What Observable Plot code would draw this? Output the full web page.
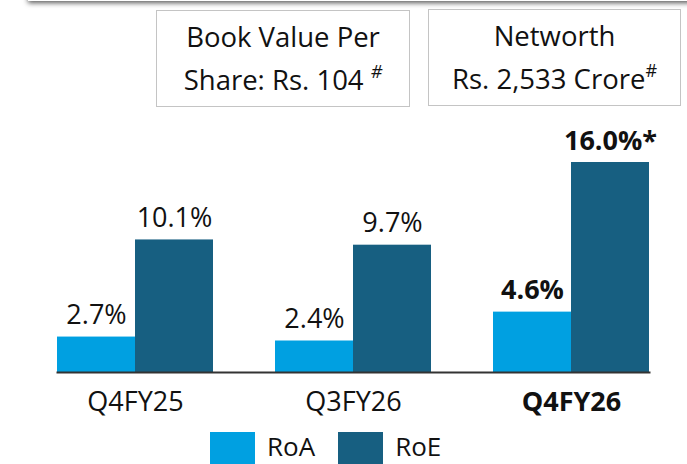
<!DOCTYPE html>
<html><head><meta charset="utf-8">
<script src="https://cdn.jsdelivr.net/npm/d3@7"></script>
<script src="https://cdn.jsdelivr.net/npm/@observablehq/plot@0.6"></script>
<style>
html,body{margin:0;padding:0;}
body{width:687px;height:464px;overflow:hidden;background:#fff;font-family:"Open Sans",sans-serif;position:relative;color:#111;}
#shadow{position:absolute;left:28px;right:-10px;top:-20px;height:21px;background:#fff;box-shadow:0 2px 5px rgba(0,0,0,0.65);}
.box{position:absolute;box-sizing:border-box;border:1.5px solid #c4c4c4;text-align:center;font-size:27.5px;line-height:43px;padding-top:4px;color:#111;}
.box sup{font-size:18px;vertical-align:top;line-height:18px;position:relative;top:4px;}
#chart{position:absolute;left:0;top:112px;}
#legend{position:absolute;left:210px;top:432px;display:flex;align-items:flex-start;font-size:26px;line-height:26px;}
#legend .item{display:flex;align-items:flex-start;margin-right:23px;}
#legend .sw{width:45px;height:32px;margin-right:12px;}
#legend .lbl{padding-top:1px;}
</style></head><body>
<div id="shadow"></div>
<div class="box" id="b1"></div>
<div class="box" id="b2"></div>
<div id="chart"></div>
<div id="legend"></div>
<script>
const categories = ["Q4FY25", "Q3FY26", "Q4FY26"];
const series = ["RoA", "RoE"];
const roa = [2.7, 2.4, 4.6];
const roe = [10.1, 9.7, 16.0];
const roeNotes = ["", "", "*"];
const highlight = "Q4FY26";
const colors = ["#00A0E1", "#175F81"];
const box1Lines = ["Book Value Per", "Share: Rs. 104 "];
const box2Lines = ["Networth", "Rs. 2,533 Crore"];
const boxNote = "#";

// boxes
const b1 = document.getElementById("b1");
Object.assign(b1.style, {left: "156px", top: "10px", width: "254px", height: "97px"});
b1.innerHTML = box1Lines[0] + "<br>" + box1Lines[1] + "<sup><i>" + boxNote + "</i></sup>";
const b2 = document.getElementById("b2");
Object.assign(b2.style, {left: "428px", top: "9px", width: "253px", height: "97px"});
b2.innerHTML = box2Lines[0] + "<br>" + box2Lines[1] + "<sup>" + boxNote + "</sup>";

const rows = categories.flatMap((c, i) => [
  {cat: c, series: series[0], value: roa[i], note: ""},
  {cat: c, series: series[1], value: roe[i], note: roeNotes[i]}
]);
const fmt = d => d.value.toFixed(1) + "%" + d.note;

const plot = Plot.plot({
  width: 687,
  height: 312,
  marginLeft: 25,
  marginRight: 6,
  marginTop: 50,
  marginBottom: 52,
  fx: {domain: categories, paddingInner: 0.286, paddingOuter: 0.143, label: null},
  x: {domain: series, padding: 0, axis: null},
  y: {domain: [0, d3.max(roe)], axis: null},
  color: {domain: series, range: colors},
  style: {fontFamily: "'Open Sans', sans-serif", color: "#111", background: "transparent", overflow: "visible"},
  marks: [
    Plot.barY(rows, {fx: "cat", x: "series", y: "value", fill: "series"}),
    Plot.text(rows.filter(d => d.cat !== highlight), {fx: "cat", x: "series", y: "value", text: fmt, dy: -13, lineAnchor: "bottom", fontSize: 27, fill: "#111"}),
    Plot.text(rows.filter(d => d.cat === highlight), {fx: "cat", x: "series", y: "value", text: fmt, dy: -13, lineAnchor: "bottom", fontSize: 27, fontWeight: "bold", fill: "#111"}),
    Plot.axisFx({anchor: "bottom", ticks: categories.filter(c => c !== highlight), tickSize: 0, tickPadding: 19, fontSize: 27, label: null, fill: "#111"}),
    Plot.axisFx({anchor: "bottom", ticks: [highlight], tickSize: 0, tickPadding: 19, fontSize: 27, fontWeight: "bold", label: null, fill: "#111"}),
    Plot.frame({anchor: "bottom", facet: "super", stroke: "#333", strokeWidth: 2})
  ]
});
document.getElementById("chart").appendChild(plot);

// legend
const legend = d3.select("#legend");
series.forEach((s, i) => {
  const item = legend.append("div").attr("class", "item");
  item.append("div").attr("class", "sw").style("background", colors[i]);
  item.append("div").attr("class", "lbl").text(s);
});
</script>
</body></html>
